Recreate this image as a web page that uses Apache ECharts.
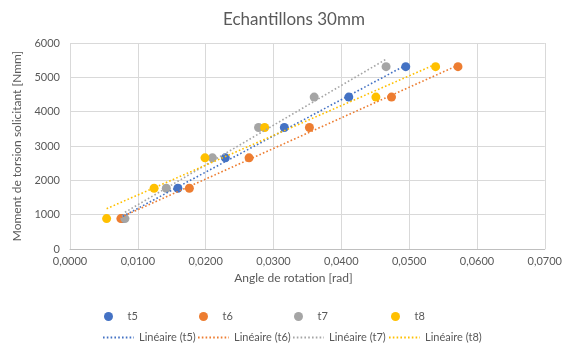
<!DOCTYPE html>
<html>
<head>
<meta charset="utf-8">
<script src="https://cdn.jsdelivr.net/npm/echarts@6/dist/echarts.min.js"></script>
<style>
  html, body { margin: 0; padding: 0; background: #fff; }
  #chart { width: 565px; height: 343px; }
</style>
</head>
<body>
<div id="chart"></div>
<script>
// Moment de torsion appliqué (Nmm), même paliers pour les 4 éprouvettes
const torque = [885, 1770, 2655, 3540, 4425, 5310];
// Angle de rotation mesuré (rad) par éprouvette
const t5 = [0.0078, 0.0159, 0.0229, 0.0316, 0.0411, 0.0495];
const t6 = [0.0075, 0.0176, 0.0264, 0.0353, 0.0474, 0.0572];
const t7 = [0.0081, 0.0142, 0.0210, 0.0278, 0.0360, 0.0466];
const t8 = [0.0054, 0.0124, 0.0199, 0.0287, 0.0451, 0.0539];

const names = ["t5", "t6", "t7", "t8"];
const angles = [t5, t6, t7, t8];
const colors = ["#4472C4", "#ED7D31", "#A5A5A5", "#FFC000"];
const textGrey = "#595959";
const font = "Lato, 'Open Sans', sans-serif";

// courbe de tendance linéaire (moindres carrés), tracée sur l'étendue des x
function linFit(xs, ys) {
  const n = xs.length;
  let sx = 0, sy = 0, sxx = 0, sxy = 0;
  for (let i = 0; i < n; i++) { sx += xs[i]; sy += ys[i]; sxx += xs[i] * xs[i]; sxy += xs[i] * ys[i]; }
  const a = (n * sxy - sx * sy) / (n * sxx - sx * sx);
  const b = (sy - a * sx) / n;
  const x0 = Math.min(...xs), x1 = Math.max(...xs);
  return [[x0, a * x0 + b], [x1, a * x1 + b]];
}

const scatterSeries = names.map((n, i) => ({
  name: n,
  type: "scatter",
  symbol: "circle",
  symbolSize: 9,
  itemStyle: { color: colors[i], opacity: 1 },
  data: angles[i].map((x, k) => [x, torque[k]]),
}));

const trendSeries = names.map((n, i) => ({
  name: "Linéaire (" + n + ")",
  type: "line",
  symbol: "none",
  showSymbol: false,
  silent: true,
  lineStyle: { color: colors[i], width: 1.6, type: [1.6, 2.2] },
  itemStyle: { color: colors[i] },
  data: linFit(angles[i], torque),
}));

// une légende par entrée, pour caler les positions comme dans Excel
const markerLefts = [104, 199, 294, 391];
const lineLefts = [102, 197, 292, 388];
const legends = [];
names.forEach((n, i) => {
  legends.push({
    data: [n], left: markerLefts[i], top: 311,
    itemWidth: 28, itemHeight: 9, itemGap: 0, padding: 0,
    textStyle: { color: textGrey, fontSize: 11, fontFamily: font },
    selectedMode: false,
  });
  legends.push({
    data: ["Linéaire (" + n + ")"], left: lineLefts[i], top: 332,
    itemWidth: 31, itemHeight: 9, itemGap: 0, padding: 0,
    itemStyle: { color: "transparent", borderColor: "transparent", borderWidth: 0 },
    textStyle: { color: textGrey, fontSize: 11, fontFamily: font },
    selectedMode: false,
  });
});

const chart = echarts.init(document.getElementById("chart"), null, { renderer: "canvas" });
chart.setOption({
  animation: false,
  backgroundColor: "#fff",
  textStyle: { fontFamily: font },
  title: {
    text: "Echantillons 30mm",
    left: 289, top: 6, textAlign: "center",
    textStyle: { color: textGrey, fontSize: 17, fontWeight: "normal", fontFamily: font },
  },
  legend: legends,
  grid: { left: 70, right: 20, top: 43, bottom: 94, containLabel: false },
  xAxis: {
    type: "value",
    min: 0, max: 0.07, interval: 0.01,
    name: "Angle de rotation [rad]",
    nameLocation: "middle",
    nameGap: 20,
    nameTextStyle: { color: textGrey, fontSize: 12, fontFamily: font, padding: [0, 28, 0, 0] },
    axisLine: { lineStyle: { color: "#bfbfbf", width: 1 } },
    axisTick: { show: false },
    axisLabel: {
      color: textGrey, fontSize: 11, fontFamily: font, margin: 7,
      formatter: (v) => v.toFixed(4).replace(".", ","),
    },
    splitLine: { show: true, lineStyle: { color: "#d9d9d9", width: 1 } },
  },
  yAxis: {
    type: "value",
    min: 0, max: 6000, interval: 1000,
    name: "Moment de torsion solicitant [Nmm]",
    nameLocation: "middle",
    nameGap: 43,
    nameTextStyle: { color: textGrey, fontSize: 12, fontFamily: font },
    axisLine: { show: false },
    axisTick: { show: false },
    axisLabel: { color: textGrey, fontSize: 11, fontFamily: font, margin: 10, formatter: (v) => String(v) },
    splitLine: { show: true, lineStyle: { color: "#d9d9d9", width: 1 } },
  },
  series: scatterSeries.concat(trendSeries),
});
</script>
</body>
</html>
